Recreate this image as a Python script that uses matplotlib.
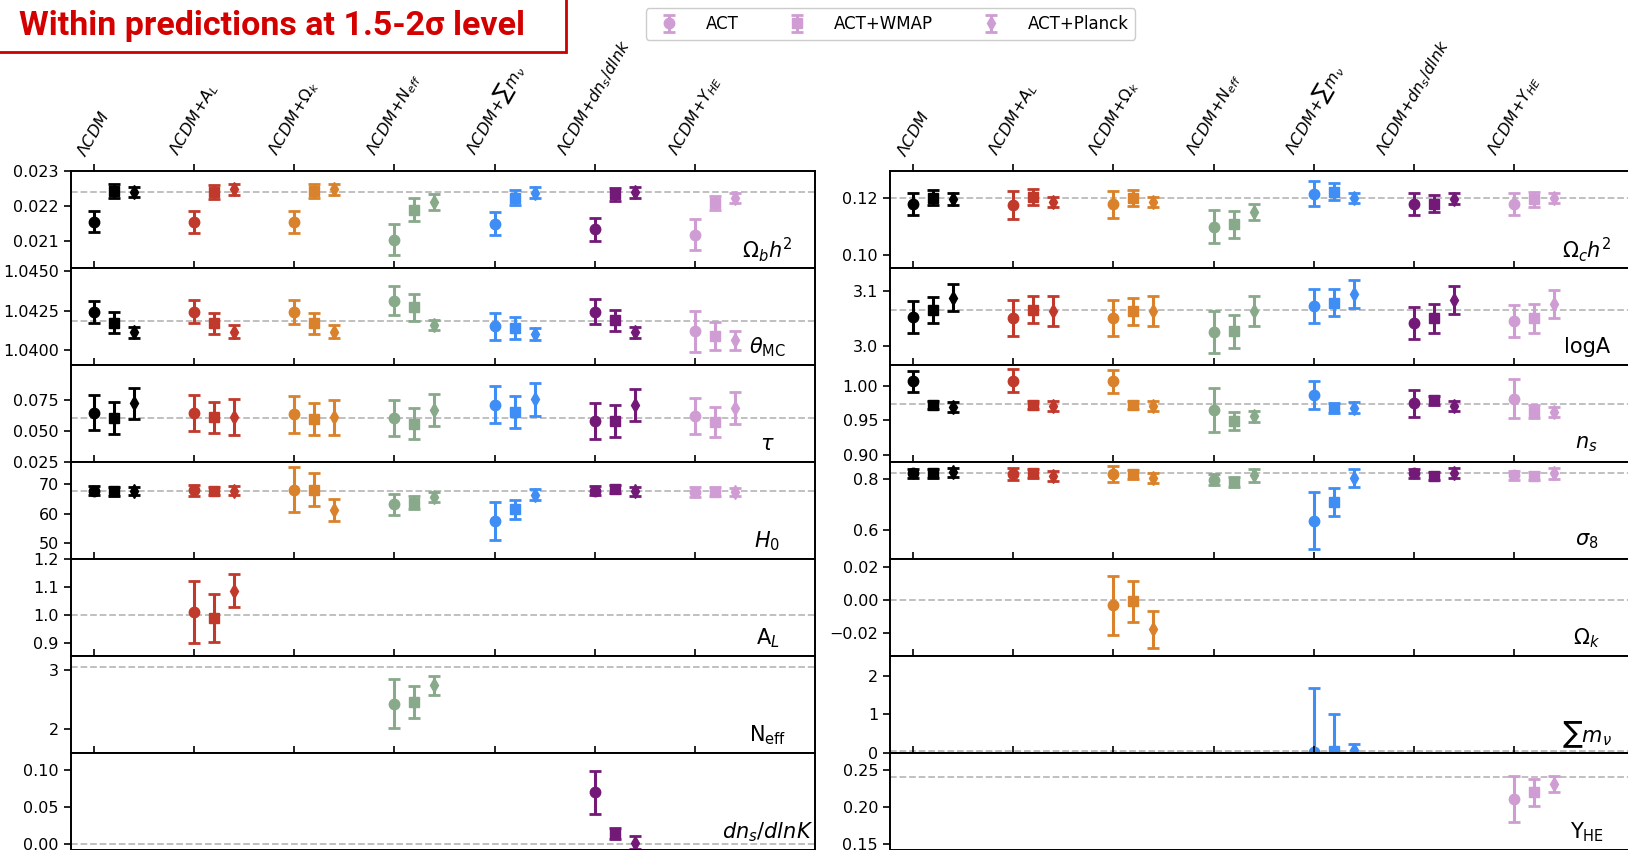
import matplotlib
matplotlib.use("Agg")
import matplotlib.pyplot as plt
from matplotlib.patches import Rectangle
from matplotlib.ticker import FuncFormatter

models = [r'$\Lambda CDM$', r'$\Lambda CDM{+}A_L$', r'$\Lambda CDM{+}\Omega_k$',
          r'$\Lambda CDM{+}N_{eff}$', r'$\Lambda CDM{+}\sum m_\nu$',
          r'$\Lambda CDM{+}dn_s/dlnk$', r'$\Lambda CDM{+}Y_{HE}$']
datasets = ['ACT', 'ACT+WMAP', 'ACT+Planck']

# --- base parameters: one row per model, columns = ACT, ACT+WMAP, ACT+Planck ---
ombh2_val = [[0.02154, 0.02243, 0.02241], [0.02154, 0.02240, 0.02248], [0.02154, 0.02242, 0.02248],
             [0.02102, 0.02189, 0.02211], [0.02149, 0.02224, 0.02238], [0.02132, 0.02233, 0.02239],
             [0.02117, 0.02209, 0.02222]]
ombh2_err = [[0.00030, 0.00020, 0.00015], [0.00031, 0.00020, 0.00016], [0.00031, 0.00020, 0.00016],
             [0.00045, 0.00033, 0.00022], [0.00033, 0.00021, 0.00016], [0.00034, 0.00020, 0.00016],
             [0.00045, 0.00020, 0.00015]]

theta_val = [[1.04243, 1.04175, 1.04113], [1.04243, 1.04170, 1.04118], [1.04243, 1.04170, 1.04118],
             [1.04315, 1.04273, 1.04160], [1.04151, 1.04140, 1.04105], [1.04245, 1.04190, 1.04113],
             [1.04120, 1.04090, 1.04062]]
theta_err = [[0.00071, 0.00067, 0.00035], [0.00073, 0.00067, 0.00040], [0.00075, 0.00067, 0.00040],
             [0.00092, 0.00086, 0.00030], [0.00085, 0.00069, 0.00037], [0.00077, 0.00066, 0.00037],
             [0.00130, 0.00090, 0.00058]]

tau_val = [[0.0649, 0.0606, 0.0725], [0.0644, 0.0611, 0.0611], [0.0636, 0.0598, 0.0611],
           [0.0606, 0.0561, 0.0669], [0.0714, 0.0654, 0.0755], [0.0585, 0.0581, 0.0710],
           [0.0624, 0.0573, 0.0687]]
tau_err = [[0.0141, 0.0125, 0.0126], [0.0146, 0.0125, 0.0146], [0.0149, 0.0129, 0.0140],
           [0.0143, 0.0126, 0.0129], [0.0148, 0.0126, 0.0135], [0.0145, 0.0129, 0.0131],
           [0.0144, 0.0122, 0.0131]]

h0_val = [[67.8, 67.6, 67.6], [67.9, 67.6, 67.8], [68.1, 68.1, 61.4],
          [63.2, 63.8, 65.7], [57.6, 61.6, 66.5], [67.8, 68.4, 67.6],
          [67.4, 67.5, 67.3]]
h0_err = [[1.5, 1.5, 1.4], [1.8, 1.4, 1.5], [7.6, 5.6, 3.7],
          [3.5, 2.2, 1.7], [6.3, 3.2, 1.8], [1.5, 1.3, 1.5],
          [1.6, 1.4, 1.4]]

omch2_val = [[0.11783, 0.12024, 0.11980], [0.11750, 0.12048, 0.11880], [0.11783, 0.12024, 0.11880],
             [0.11000, 0.11084, 0.11518], [0.12169, 0.12241, 0.12000], [0.11783, 0.11807, 0.11988],
             [0.11807, 0.11960, 0.12000]]
omch2_err = [[0.0039, 0.0026, 0.0021], [0.0050, 0.0030, 0.0018], [0.0048, 0.0028, 0.0018],
             [0.0060, 0.0048, 0.0028], [0.0043, 0.0030, 0.0018], [0.0039, 0.0030, 0.0019],
             [0.0039, 0.0026, 0.0018]]

loga_val = [[3.0527, 3.0648, 3.0879], [3.0503, 3.0655, 3.0636], [3.0503, 3.0624, 3.0636],
            [3.0242, 3.0260, 3.0636], [3.0727, 3.0788, 3.0939], [3.0412, 3.0497, 3.0836],
            [3.0455, 3.0497, 3.0758]]
loga_err = [[0.0297, 0.0233, 0.0240], [0.0330, 0.0250, 0.0280], [0.0330, 0.0250, 0.0275],
            [0.0385, 0.0300, 0.0270], [0.0315, 0.0240, 0.0260], [0.0300, 0.0260, 0.0250],
            [0.0290, 0.0260, 0.0260]]

ns_val = [[1.0066, 0.9722, 0.9689], [1.0075, 0.9717, 0.9708], [1.0066, 0.9722, 0.9708],
          [0.9651, 0.9486, 0.9557], [0.9863, 0.9675, 0.9684], [0.9745, 0.9792, 0.9708],
          [0.9816, 0.9627, 0.9620]]
ns_err = [[0.0153, 0.0052, 0.0070], [0.0165, 0.0060, 0.0073], [0.0170, 0.0052, 0.0073],
          [0.0320, 0.0130, 0.0085], [0.0205, 0.0070, 0.0078], [0.0200, 0.0064, 0.0066],
          [0.0285, 0.0094, 0.0066]]

s8_val = [[0.8211, 0.8211, 0.8250], [0.8197, 0.8211, 0.8120], [0.8197, 0.8171, 0.8040],
          [0.7974, 0.7880, 0.8132], [0.6368, 0.7092, 0.8039], [0.8211, 0.8105, 0.8237],
          [0.8132, 0.8105, 0.8211]]
s8_err = [[0.0178, 0.0160, 0.0180], [0.0240, 0.0180, 0.0200], [0.0310, 0.0170, 0.0200],
          [0.0210, 0.0180, 0.0240], [0.1100, 0.0560, 0.0360], [0.0178, 0.0160, 0.0200],
          [0.0180, 0.0160, 0.0200]]

# --- extension parameters, only constrained in their own model ---
al_val = [1.010, 0.988, 1.086]
al_err = [0.110, 0.087, 0.059]

neff_val = [2.43, 2.46, 2.74]
neff_err = [0.415, 0.262, 0.164]

nrun_val = [0.070, 0.0143, 0.0022]
nrun_err = [0.029, 0.0074, 0.0090]

omk_val = [-0.0031, -0.0006, -0.0177]
omk_err = [0.0180, 0.0124, 0.0115]

mnu_val = [0.03, 0.05, 0.07]
mnu_lo = [0.03, 0.05, 0.07]
mnu_hi = [1.65, 0.95, 0.16]

yhe_val = [0.2109, 0.2198, 0.2313]
yhe_err = [0.031, 0.018, 0.0107]

colors = ['#000000', '#c0392b', '#d9822b', '#88a98a', '#3f8ef5', '#731a78', '#cf9dd3']
markers = ['o', 's', 'd']
offsets = [0.0, 0.2, 0.4]


def fmt(decimals):
    return FuncFormatter(lambda v, p: f'{v:.{decimals}f}'.replace('-', '\u2212'))


def draw_base(ax, vals, errs):
    for m, (row_v, row_e) in enumerate(zip(vals, errs)):
        for d in range(3):
            ax.errorbar(m + offsets[d], row_v[d], yerr=row_e[d], fmt=markers[d],
                        color=colors[m], ms=7.5, elinewidth=2.2, capsize=4, capthick=2)


def draw_ext(ax, model, vals, lo, hi):
    handles = []
    for d in range(3):
        h = ax.errorbar(model + offsets[d], vals[d], yerr=[[lo[d]], [hi[d]]], fmt=markers[d],
                        color=colors[model], ms=7.5, elinewidth=2.2, capsize=4, capthick=2,
                        label=datasets[d])
        handles.append(h)
    return handles


fig = plt.figure(figsize=(16.28, 8.5), dpi=100)

# panel layout (figure fractions)
col_x = [0.0434, 0.5466]
col_w = 0.4573
row_top = 0.7985
row_h = 0.1141

left_panels = [
    (r'$\Omega_b h^2$', 'base', (ombh2_val, ombh2_err), (0.0202, 0.0230), 0.0224, [0.021, 0.022, 0.023], 3),
    (r'$\theta_{\rm MC}$', 'base', (theta_val, theta_err), (1.03905, 1.0452), 1.04185, [1.0400, 1.0425, 1.0450], 4),
    (r'$\tau$', 'base', (tau_val, tau_err), (0.025, 0.103), 0.0605, [0.025, 0.050, 0.075], 3),
    (r'$H_0$', 'base', (h0_val, h0_err), (44.7, 77.4), 67.7, [50, 60, 70], 0),
    (r'A$_L$', 1, (al_val, al_err, al_err), (0.851, 1.2), 1.0, [0.9, 1.0, 1.1, 1.2], 1),
    (r'N$_{\rm eff}$', 3, (neff_val, neff_err, neff_err), (1.60, 3.23), 3.046, [2, 3], 0),
    (r'$dn_s/dlnK$', 5, (nrun_val, nrun_err, nrun_err), (-0.008, 0.1225), 0.0, [0.00, 0.05, 0.10], 2),
]
right_panels = [
    (r'$\Omega_c h^2$', 'base', (omch2_val, omch2_err), (0.0952, 0.1296), 0.1200, [0.10, 0.12], 2),
    ('logA', 'base', (loga_val, loga_err), (2.964, 3.1415), 3.065, [3.0, 3.1], 1),
    (r'$n_s$', 'base', (ns_val, ns_err), (0.889, 1.030), 0.9735, [0.90, 0.95, 1.00], 2),
    (r'$\sigma_8$', 'base', (s8_val, s8_err), (0.486, 0.865), 0.821, [0.6, 0.8], 1),
    (r'$\Omega_k$', 2, (omk_val, omk_err, omk_err), (-0.034, 0.025), 0.0, [-0.02, 0.00, 0.02], 2),
    (r'$\sum m_\nu$', 4, (mnu_val, mnu_lo, mnu_hi), (0.0, 2.5), 0.06, [0, 1, 2], 0),
    (r'Y$_{\rm HE}$', 6, (yhe_val, yhe_err, yhe_err), (0.1415, 0.2725), 0.24, [0.15, 0.20, 0.25], 2),
]

legend_handles = None
for c, panels in enumerate([left_panels, right_panels]):
    for r, (label, kind, data, ylim, ref, yticks, dec) in enumerate(panels):
        ax = fig.add_axes([col_x[c], row_top - (r + 1) * row_h, col_w, row_h])
        ax.axhline(ref, color='#bbbbbb', ls='--', lw=1.3, zorder=0)
        if kind == 'base':
            draw_base(ax, *data)
        else:
            hs = draw_ext(ax, kind, *data)
            if kind == 6:
                legend_handles = hs
        ax.set_xlim(-0.23, 7.2)
        ax.set_ylim(*ylim)
        ax.set_yticks(yticks)
        ax.yaxis.set_major_formatter(fmt(dec))
        ax.set_xticks(range(len(models)))
        ax.xaxis.tick_top()
        if r == 0:
            ax.set_xticklabels(models, rotation=60, fontsize=12)
        else:
            ax.tick_params(axis='x', labeltop=False)
        ax.tick_params(axis='both', length=5, width=1.2, labelsize=11.5)
        for sp in ax.spines.values():
            sp.set_linewidth(1.4)
        ax.text(0.936, 0.19, label, transform=ax.transAxes, ha='center', va='center', fontsize=15)

fig.legend(legend_handles, datasets, loc='upper center', bbox_to_anchor=(0.547, 1.0),
           ncol=3, fontsize=12, columnspacing=2.5, handletextpad=1.2, borderpad=0.4,
           framealpha=1, edgecolor='#cccccc')

# headline box
fig.patches.append(Rectangle((-0.01, 1 - 52 / 850), 566 / 1628 + 0.01, 0.1, transform=fig.transFigure,
                             facecolor='white', edgecolor='#cc0000', lw=2, zorder=5))
fig.text(19 / 1628, 1 - 26 / 850, 'Within predictions at 1.5-2\u03c3 level', color='#d40000',
         fontsize=24.5, fontweight='bold', family=['Roboto', 'DejaVu Sans'], va='center', ha='left',
         zorder=6)

fig.savefig('out.png', dpi=100)
